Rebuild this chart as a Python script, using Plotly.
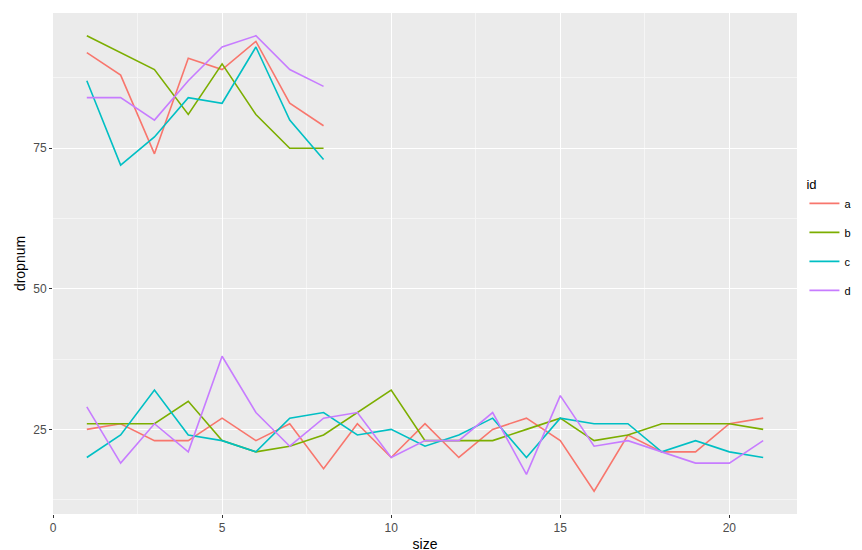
import plotly.graph_objects as go

ids = ["a", "b", "c", "d"]
colors = ["#F8766D", "#7CAE00", "#00BFC4", "#C77CFF"]

size_hi = list(range(1, 9))
hi = {
    "a": [92, 88, 74, 91, 89, 94, 83, 79],
    "b": [95, 92, 89, 81, 90, 81, 75, 75],
    "c": [87, 72, 77, 84, 83, 93, 80, 73],
    "d": [84, 84, 80, 87, 93, 95, 89, 86],
}

size_lo = list(range(1, 22))
lo = {
    "a": [25, 26, 23, 23, 27, 23, 26, 18, 26, 20, 26, 20, 25, 27, 23, 14, 24, 21, 21, 26, 27],
    "b": [26, 26, 26, 30, 23, 21, 22, 24, 28, 32, 23, 23, 23, 25, 27, 23, 24, 26, 26, 26, 25],
    "c": [20, 24, 32, 24, 23, 21, 27, 28, 24, 25, 22, 24, 27, 20, 27, 26, 26, 21, 23, 21, 20],
    "d": [29, 19, 26, 21, 38, 28, 22, 27, 28, 20, 23, 23, 28, 17, 31, 22, 23, 21, 19, 19, 23],
}

fig = go.Figure()
for k, c in zip(ids, colors):
    fig.add_trace(go.Scatter(x=size_hi, y=hi[k], mode="lines", name=k, legendgroup=k,
                             line=dict(color=c, width=1.6)))
    fig.add_trace(go.Scatter(x=size_lo, y=lo[k], mode="lines", name=k, legendgroup=k,
                             showlegend=False, line=dict(color=c, width=1.6)))

fig.update_layout(
    width=862, height=550,
    margin=dict(l=45, r=73, t=5, b=44),
    plot_bgcolor="#EBEBEB", paper_bgcolor="white",
    font=dict(family="Liberation Sans, Arial", size=12, color="#4D4D4D"),
    legend=dict(title=dict(text="id", font=dict(size=13, color="black")),
                x=1.01, y=0.55, yanchor="middle", font=dict(size=11, color="black")),
)
fig.update_xaxes(range=[0, 22], tickvals=[0, 5, 10, 15, 20], gridcolor="white", gridwidth=1.3,
                 minor=dict(tickvals=[2.5, 7.5, 12.5, 17.5], gridcolor="#F5F5F5", gridwidth=0.6, showgrid=True),
                 ticks="outside", ticklen=3, tickcolor="#333333", zeroline=False, automargin=False,
                 title=dict(text="size", font=dict(size=14, color="black"), standoff=4))
fig.update_yaxes(range=[9.95, 99.05], tickvals=[25, 50, 75], gridcolor="white", gridwidth=1.3,
                 minor=dict(tickvals=[12.5, 37.5, 62.5, 87.5], gridcolor="#F5F5F5", gridwidth=0.6, showgrid=True),
                 ticks="outside", ticklen=3, tickcolor="#333333", zeroline=False, automargin=False,
                 title=dict(text="dropnum", font=dict(size=14, color="black"), standoff=4))

fig.write_html("out.html")
